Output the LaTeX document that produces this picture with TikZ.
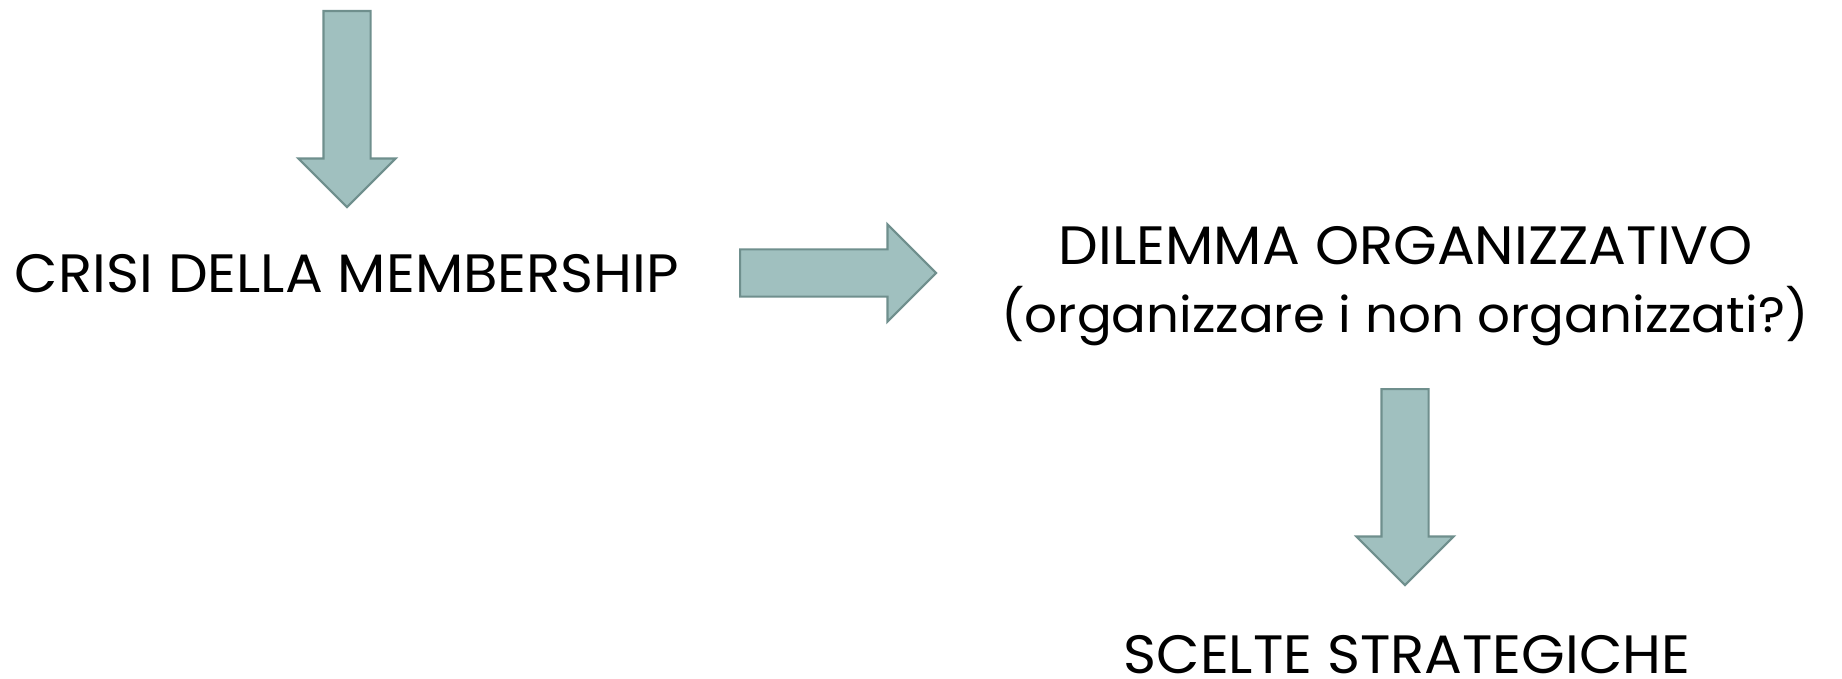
\documentclass[tikz,border=0pt]{standalone}
\usepackage{fontspec}
\setmainfont[FakeStretch=1.04]{Poppins}
\usepackage{xcolor}
\usepackage{tikz}
\usetikzlibrary{shapes.arrows, positioning}
\definecolor{arrowfill}{HTML}{A0C0BF}
\definecolor{arrowline}{HTML}{6F8F8D}

\begin{document}
\begin{tikzpicture}[x=1pt, y=-1pt,
    label/.style={anchor=base, inner sep=0pt, font=\fontsize{54}{64}\selectfont},
    sublabel/.style={anchor=base, inner sep=0pt, font=\fontsize{49.5}{60}\selectfont},
    bigarrow/.style={single arrow, draw=arrowline, fill=arrowfill, line width=2.2pt,
        inner xsep=0pt, inner ysep=22.5pt, single arrow head extend=25pt,
        minimum height=196pt, anchor=tail}]
            \useasboundingbox (0,0) rectangle (1842,679);
            \node[label] (crisi) at (347,292) {CRISI DELLA MEMBERSHIP};
            \node[label] (dilemma) at (1406,265) {DILEMMA ORGANIZZATIVO};
            \node[sublabel] (domanda) at (1405,332) {(organizzare i non organizzati?)};
            \node[label] (scelte) at (1407,673) {SCELTE STRATEGICHE};
            \node[bigarrow, rotate=-90] (freccia1) at (347,10) {};
            \node[bigarrow] (freccia2) at (739,273) {};
            \node[bigarrow, rotate=-90] (freccia3) at (1405,388) {};
        \end{tikzpicture}
\end{document}
